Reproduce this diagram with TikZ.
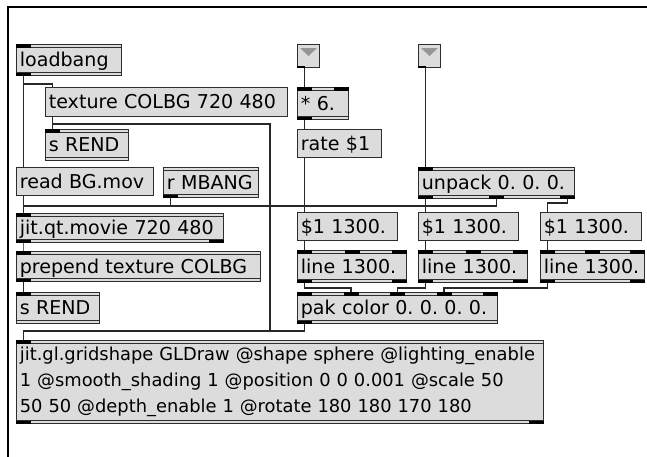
\documentclass[tikz,border=0pt]{standalone}
\usepackage{fontspec}
\setmainfont{DejaVu Sans}
\usetikzlibrary{calc}
\frenchspacing

\definecolor{boxgray}{RGB}{220,220,220}
\definecolor{edgegray}{RGB}{45,45,45}
\definecolor{cordgray}{RGB}{40,40,40}
\definecolor{jitgreen}{RGB}{70,135,70}
\definecolor{trigray}{RGB}{150,150,150}

\tikzset{
  wh/.style 2 args={minimum width=#1*0.75pt, text width=#1*0.75pt-5pt, minimum height=#2*0.75pt},
  maxbox/.style={draw=edgegray, line width=0.8pt, fill=boxgray, anchor=north west,
    inner xsep=2.5pt, inner ysep=0pt, align=left},
  dbl/.style={path picture={
    \draw[edgegray, line width=0.5pt]
      ([yshift=-2.2pt]path picture bounding box.north west) -- ([yshift=-2.2pt]path picture bounding box.north east)
      ([yshift=2.2pt]path picture bounding box.south west) -- ([yshift=2.2pt]path picture bounding box.south east);}},
  msgbox/.style={maxbox, text height=12pt, text depth=2pt, font=\fontsize{14.3}{17}\selectfont},
  objbox/.style={msgbox, dbl},
  gridbox/.style={maxbox, dbl, font=\fontsize{13.4}{19.5}\selectfont},
  port/.style={fill=black},
  cord/.style={draw=cordgray, line width=0.9pt},
}

% inlets / outlets: fractions along the top or bottom edge
\newcommand\inlets[3][port]{%
  \foreach \f [count=\k] in {#3} {
    \coordinate (#2-i\k) at ($(#2.north west)!\f!(#2.north east)+({7.5-15*\f},0)$);
    \fill[#1] ($(#2-i\k)+(-7.5,0)$) rectangle ++(15,3.5);
  }}
\newcommand\outlets[3][port]{%
  \foreach \f [count=\k] in {#3} {
    \coordinate (#2-o\k) at ($(#2.south west)!\f!(#2.south east)+({7.5-15*\f},0)$);
    \fill[#1] ($(#2-o\k)+(-7.5,0)$) rectangle ++(15,-3.5);
  }}

\begin{document}
\begin{tikzpicture}[x=0.75pt, y=-0.75pt]
    \useasboundingbox (0,0) rectangle (647,457);

    % window edge
    \draw[line width=1pt] (8,457) |- (647,7);

    % left column
    \node[objbox, wh={105}{31}] (lb) at (16,44) {loadbang};
    \node[msgbox, wh={242}{29}] (tex) at (45,87) {texture COLBG 720 480};
    \node[objbox, wh={83}{31}] (sr1) at (45,129) {s REND};
    \node[msgbox, wh={137}{28}] (rd) at (16,167) {read BG.mov};
    \node[objbox, wh={95}{30}] (rm) at (163,167) {r MBANG};
    \node[objbox, wh={207}{29}] (mv) at (16,213) {jit.qt.movie 720 480};
    \node[objbox, wh={244}{30}] (pp) at (16,251) {prepend texture COLBG};
    \node[objbox, wh={83}{31}] (sr2) at (16,292) {s REND};

    % number boxes
    \node[maxbox, wh={22}{23}] (nb1) at (297,44) {};
    \node[maxbox, wh={22}{23}] (nb2) at (418,44) {};
    \fill[trigray] ($(nb1.north west)+(3,4)$) -- ++(17,0) -- ++(-8.5,8) -- cycle;
    \fill[trigray] ($(nb2.north west)+(3,4)$) -- ++(17,0) -- ++(-8.5,8) -- cycle;

    % right side
    \node[objbox, wh={51}{32}] (mul) at (297,87) {* 6.};
    \node[msgbox, wh={84}{28}] (rate) at (297,129) {rate \$1};
    \node[objbox, wh={156}{31}] (up) at (418,167) {unpack 0. 0. 0.};
    \node[msgbox, wh={100}{28}] (d1) at (297,212) {\$1 1300.};
    \node[msgbox, wh={100}{28}] (d2) at (418,212) {\$1 1300.};
    \node[msgbox, wh={101}{28}] (d3) at (540,212) {\$1 1300.};
    \node[objbox, wh={109}{32}] (ln1) at (297,250) {line 1300.};
    \node[objbox, wh={109}{32}] (ln2) at (418,250) {line 1300.};
    \node[objbox, wh={104}{32}] (ln3) at (540,250) {line 1300.};
    \node[objbox, wh={200}{31}] (pk) at (297,292) {pak color 0. 0. 0. 0.};

    % the renderer
    \node[gridbox, wh={527}{83}] (gs) at (16,340)
      {jit.gl.gridshape GLDraw @shape sphere @lighting\_enable\\
       1 @smooth\_shading 1 @position 0 0 0.001 @scale 50\\
       50 50 @depth\_enable 1 @rotate 180 180 170 180};

    % ports
    \inlets{lb}{0} \outlets{lb}{0}
    \inlets[fill=none]{tex}{0} \outlets[fill=none]{tex}{0}
    \inlets{sr1}{0}
    \inlets[fill=none]{rd}{0} \outlets[fill=none]{rd}{0}
    \outlets{rm}{0}
    \inlets{mv}{0} \outlets{mv}{0,1}
    \inlets{pp}{0} \outlets{pp}{0}
    \inlets{sr2}{0}
    \outlets[fill=none]{nb1}{0} \outlets[fill=none]{nb2}{0}
    \fill (nb1.south west) rectangle ++(8,-2.5);
    \fill (nb2.south west) rectangle ++(8,-2.5);
    \inlets{mul}{0,1} \outlets{mul}{0}
    \inlets[fill=none]{rate}{0} \outlets[fill=none]{rate}{0}
    \inlets{up}{0} \outlets{up}{0,0.5,1}
    \foreach \n in {d1,d2,d3} {\inlets[fill=none]{\n}{0} \outlets[fill=none]{\n}{0}}
    \foreach \n in {ln1,ln2,ln3} {\inlets{\n}{0,0.5,1} \outlets{\n}{0,1}}
    \inlets{pk}{0,0.25,0.5,0.75,1} \outlets{pk}{0}
    \inlets{gs}{0} \outlets{gs}{0,1}

    % patch cords
    \coordinate (bus) at (0,206);
    \coordinate (pkbus) at (0,288);
    \coordinate (gsbus) at (0,331);
    \coordinate (texdrop) at (270,331);

    \draw[cord] (lb-o1) -- ++(0,8) -| (tex-i1);
    \draw[cord] (lb-o1) -- (rd-i1);
    \draw[cord] (tex-o1) -- (sr1-i1);
    \draw[cord] (tex-o1) -- ++(0,7) -| (texdrop) -| (gs-i1);
    \draw[cord] (rd-o1) -- (mv-i1);
    \draw[cord] (rm-o1) -- (rm-o1 |- bus) -| (mv-i1);
    \draw[cord] (rate-o1) -- (rate-o1 |- bus) -| (mv-i1);
    \draw[cord, jitgreen] (mv-o1) -- (pp-i1);
    \draw[cord] (pp-o1) -- (sr2-i1);

    \draw[cord] (nb1-o1) -- (mul-i1);
    \draw[cord] (mul-o1) -- (rate-i1);
    \draw[cord] (nb2-o1) -- (up-i1);
    \draw[cord] (up-o1) -- (d2-i1);
    \draw[cord] (up-o2) -- (up-o2 |- bus) -| (d1-i1);
    \draw[cord] (up-o3) -- ++(0,4) -| (d3-i1);
    \draw[cord] (d1-o1) -- (ln1-i1);
    \draw[cord] (d2-o1) -- (ln2-i1);
    \draw[cord] (d3-o1) -- (ln3-i1);
    \draw[cord] (ln1-o1) -- (ln1-o1 |- pkbus) -| (pk-i2);
    \draw[cord] (ln2-o1) -- (ln2-o1 |- pkbus) -| (pk-i3);
    \draw[cord] (ln3-o1) -- (ln3-o1 |- pkbus) -| (pk-i4);
    \draw[cord] (pk-o1) -- (pk-o1 |- gsbus) -| (gs-i1);
\end{tikzpicture}
\end{document}
